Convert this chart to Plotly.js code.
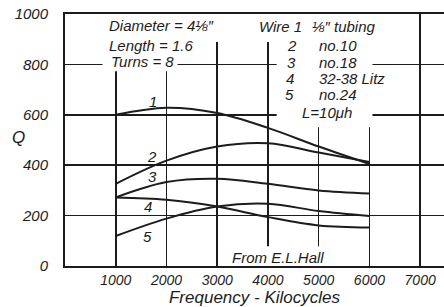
<!DOCTYPE html>
<html>
<head>
<meta charset="utf-8">
<script src="https://cdn.plot.ly/plotly-3.0.1.min.js"></script>
<style>html,body{margin:0;padding:0;background:#fff;}</style>
</head>
<body>
<div id="chart" style="width:444px;height:307px;"></div>
<script>
// Data
const freq = [1000, 2000, 3000, 4000, 5000, 6000];
const curve1 = [600, 628, 607, 548, 474, 405];
const curve2 = [326, 418, 474, 487, 450, 413];
const curve3 = [272, 333, 346, 326, 300, 288];
const curve4 = [272, 263, 236, 194, 161, 153];
const curve5 = [119, 188, 236, 247, 218, 198];
const curveNames = ['1', '2', '3', '4', '5'];
const xTicks = [1000, 2000, 3000, 4000, 5000, 6000, 7000];
const yTicks = [0, 200, 400, 600, 800, 1000];

const ink = '#1c1c1c';
const fam = 'Liberation Sans, Arial, sans-serif';
const allCurves = [curve1, curve2, curve3, curve4, curve5];

const traces = allCurves.map((c, i) => ({
  x: freq, y: c, type: 'scatter', mode: 'lines', name: curveNames[i],
  line: {color: ink, width: 2, shape: 'spline', smoothing: 1}, hoverinfo: 'skip'
}));

const txt = (text, x, y, opts) => Object.assign({
  text: text, x: x, y: y, xref: 'x', yref: 'y', showarrow: false,
  xanchor: 'left', yanchor: 'middle',
  font: {family: fam, size: 15, color: ink, style: 'italic'}
}, opts || {});

// curve label positions
const labelPos = [[1726, 654], [1720, 433], [1720, 354], [1633, 237], [1633, 118]];
const annotations = curveNames.map((n, i) => txt(n, labelPos[i][0], labelPos[i][1], {xanchor: 'center'}));

annotations.push(
  txt('Diameter = 4⅛″', 820, 956),
  txt('Length = 1.6', 820, 877),
  txt('Turns = 8', 860, 810),
  txt('Wire 1', 3777, 952),
  txt('⅛″ tubing', 4822, 952),
  txt('2', 4467, 877, {xanchor: 'center'}),
  txt('no.10', 4961, 877),
  txt('3', 4467, 809, {xanchor: 'center'}),
  txt('no.18', 4961, 809),
  txt('4', 4430, 746, {xanchor: 'center'}),
  txt('32-38 Litz', 4961, 746),
  txt('5', 4430, 682, {xanchor: 'center'}),
  txt('no.24', 4961, 682),
  txt('L=10μh', 4625, 611),
  txt('From E.L.Hall', 3245, 35),
  {text: 'Q', x: 18, y: 137, xref: 'paper', yref: 'paper', showarrow: false,
   font: {family: fam, size: 17, color: ink, style: 'italic'}}
);
// Q uses pixel-like paper coords: convert
annotations[annotations.length - 1].xref = 'paper';
annotations[annotations.length - 1].x = (18 - 65) / 379;
annotations[annotations.length - 1].y = (265.7 - 137) / 251.7;
annotations[annotations.length - 1].xanchor = 'center';

// white masks hiding grid lines behind lettering
const mask = (x0, x1, y0, y1) => ({type: 'rect', xref: 'x', yref: 'y', x0: x0, x1: x1, y0: y0, y1: y1,
  fillcolor: '#ffffff', line: {width: 0}, layer: 'between'});
const shapes = [
  mask(0, 6893, 889, 1000),
  mask(740, 2219, 773, 889),
  mask(4172, 6000 + 60, 551, 889),
  mask(3146, 5513, 0, 78)
];

const layout = {
  width: 444, height: 307,
  margin: {l: 65, r: 0, t: 14, b: 41},
  paper_bgcolor: '#ffffff', plot_bgcolor: '#ffffff',
  showlegend: false,
  xaxis: {
    range: [0, 7470], tickvals: xTicks, ticktext: xTicks.map(String),
    showgrid: true, gridcolor: ink, gridwidth: 1.6,
    showline: true, linecolor: ink, linewidth: 2, mirror: true,
    zeroline: false, ticks: '',
    tickfont: {family: fam, size: 14, color: ink, style: 'italic'},
    title: {text: 'Frequency - Kilocycles', standoff: 4,
            font: {family: fam, size: 17, color: ink, style: 'italic'}}
  },
  yaxis: {
    range: [0, 1000], tickvals: yTicks, ticktext: yTicks.map(String),
    showgrid: true, gridcolor: ink, gridwidth: 1.6,
    showline: true, linecolor: ink, linewidth: 2,
    zeroline: false, ticks: '', ticklabelstandoff: 12,
    tickfont: {family: fam, size: 15, color: ink, style: 'italic'}
  },
  annotations: annotations,
  shapes: shapes
};

Plotly.newPlot('chart', traces, layout, {displayModeBar: false, staticPlot: true});
</script>
</body>
</html>
